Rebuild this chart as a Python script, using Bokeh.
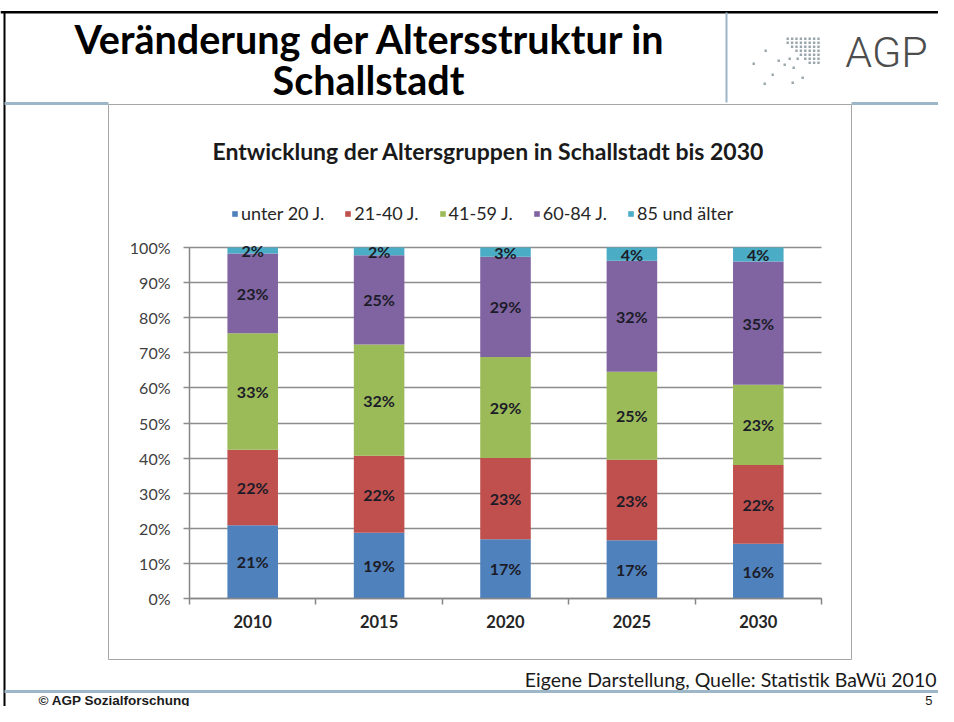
from bokeh.plotting import figure
from bokeh.models import (Range1d, LinearAxis, FixedTicker, PrintfTickFormatter,
                          ColumnDataSource, LabelSet, Label, BoxAnnotation, Legend, LegendItem)
from bokeh.core.properties import value
from bokeh.embed import file_html
from bokeh.resources import INLINE

# ---------------- data ----------------
years = ["2010", "2015", "2020", "2025", "2030"]
groups = ["unter 20 J.", "21-40 J.", "41-59 J.", "60-84 J.", "85 und älter"]
unter_20 = [20.9, 18.7, 16.9, 16.6, 15.6]
j_21_40 = [21.5, 22.0, 23.1, 22.9, 22.4]
j_41_59 = [33.2, 31.7, 28.8, 25.1, 22.9]
j_60_84 = [22.7, 25.4, 28.6, 31.6, 35.1]
ab_85 = [1.7, 2.2, 2.6, 3.8, 4.0]
colors = ["#4F81BD", "#C0504D", "#9BBB59", "#8064A2", "#4BACC6"]
y_ticks = [0, 10, 20, 30, 40, 50, 60, 70, 80, 90, 100]

page_title_1 = "Veränderung der Altersstruktur in"
page_title_2 = "Schallstadt"
chart_title = "Entwicklung der Altersgruppen in Schallstadt bis 2030"
source_note = "Eigene Darstellung, Quelle: Statistik BaWü 2010"
footer_left = "© AGP Sozialforschung"
footer_right = "5"
logo_text = "AGP"

# ---------------- layout ----------------
W, H = 938, 706
FL, FR, FT, FB = 189, 821, 247, 598    # plot area (axes box) in canvas px
n = len(years)
xpos = [i + 0.5 for i in range(n)]     # category centres on a 0..n axis
PXX = (FR - FL) / n
PYY = (FB - FT) / 100.0

# the frame covers the whole canvas; the axes sit at fixed data locations inside it
p = figure(width=W, height=H,
           x_range=Range1d(-FL / PXX, n + (W - FR) / PXX),
           y_range=Range1d(-(H - FB) / PYY, 100 + FT / PYY),
           output_backend="svg", toolbar_location=None,
           x_axis_location=None, y_axis_location=None,
           min_border=0, min_border_left=0, min_border_right=0,
           min_border_top=0, min_border_bottom=0,
           outline_line_color=None,
           background_fill_color="white", border_fill_color="white")
p.grid.visible = False

# pixel coordinate system (from the top-left) for slide decorations
p.extra_x_ranges = {"rx": Range1d(0, W)}
p.extra_y_ranges = {"ry": Range1d(H, 0)}

GRAY = "#868686"
BLUE_LINE = "#9DB6C8"

# y axis; its inward ticks span the plot width and act as the horizontal gridlines
yax = LinearAxis(fixed_location=0, bounds=(0, 100),
                 ticker=FixedTicker(ticks=y_ticks),
                 formatter=PrintfTickFormatter(format="%d%%"))
yax.level = "underlay"
yax.axis_line_color = GRAY
yax.axis_line_width = 1.5
yax.major_tick_line_color = "#8C8C8C"
yax.major_tick_line_width = 1.5
yax.major_tick_out = 6
yax.major_tick_in = FR - FL
yax.minor_tick_line_color = None
yax.major_label_text_font = "Lato"
yax.major_label_text_font_size = "16px"
yax.major_label_text_color = "#404040"
yax.major_label_standoff = 13
p.add_layout(yax, "left")

# x axis: labels at category centres, small ticks at category boundaries
xax = LinearAxis(fixed_location=0, bounds=(0, n),
                 ticker=FixedTicker(ticks=xpos, minor_ticks=list(range(n + 1))),
                 major_label_overrides={x: y for x, y in zip(xpos, years)})
xax.axis_line_color = GRAY
xax.axis_line_width = 1.5
xax.major_tick_line_color = None
xax.major_tick_out = 0
xax.major_tick_in = 0
xax.minor_tick_line_color = GRAY
xax.minor_tick_line_width = 1.5
xax.minor_tick_out = 6
xax.minor_tick_in = 0
xax.major_label_text_font = "Lato"
xax.major_label_text_font_style = "bold"
xax.major_label_text_font_size = "16.5px"
xax.major_label_text_color = "#262626"
xax.major_label_standoff = 10
p.add_layout(xax, "below")

# stacked bars
keys = ["u20", "j21", "j41", "j60", "a85"]
series = [unter_20, j_21_40, j_41_59, j_60_84, ab_85]
src = ColumnDataSource(dict(x=xpos, year=years, **{k: s for k, s in zip(keys, series)}))
renderers = p.vbar_stack(keys, x="x", width=0.4, source=src,
                         fill_color=colors, line_color=None)

# data labels
lx, ly, lt = [], [], []
for j in range(n):
    base = 0.0
    for s in series:
        v = s[j]
        lx.append(xpos[j])
        ly.append(base + v / 2)
        lt.append(f"{int(round(v))}%")
        base += v
p.add_layout(LabelSet(x="x", y="y", text="t",
                      source=ColumnDataSource(dict(x=lx, y=ly, t=lt)),
                      text_align="center", text_baseline="middle",
                      text_font=value("Lato"), text_font_style="bold",
                      text_font_size=value("16px"), text_color="#1C1C28"))

# legend (location = offset of its bottom-left corner from the canvas bottom-left)
legend = Legend(items=[LegendItem(label=g, renderers=[r]) for g, r in zip(groups, renderers)],
                location=(231, 482), orientation="horizontal",
                glyph_width=7, glyph_height=7, label_standoff=3, spacing=20,
                padding=0, margin=0, border_line_color=None, background_fill_alpha=0,
                label_text_font="Lato", label_text_font_size="18px",
                label_text_color="#262626", label_height=18)
p.add_layout(legend)


# ---------------- slide decorations (pixel coordinates) ----------------
def box(left, right, top, bottom, fill=None, line=None, lw=1):
    p.add_layout(BoxAnnotation(left=left, right=right, top=top, bottom=bottom,
                               x_range_name="rx", y_range_name="ry",
                               fill_color=fill if fill else "white",
                               fill_alpha=1 if fill else 0,
                               line_color=line if line else "white", line_width=lw,
                               line_alpha=1 if line else 0))


def label(x, y, text, size, font="Lato", style="normal", align="left", color="black"):
    p.add_layout(Label(x=x, y=y, x_range_name="rx", y_range_name="ry", text=text,
                       text_font=font, text_font_style=style, text_font_size=size,
                       text_align=align, text_baseline="middle", text_color=color))


# frame lines of the slide
box(0, 960, 10.5, 13, fill="black")
box(3, 5, 11, 730, fill="black")
box(725, 727, 12, 102, fill=BLUE_LINE)
box(4, 108, 101.5, 104.5, fill=BLUE_LINE)
box(851, 960, 101.5, 104.5, fill=BLUE_LINE)
box(4, 960, 689.5, 692.5, fill=BLUE_LINE)
# chart box
box(108, 851, 104, 659, line="#A6A6A6", lw=1)

# titles
label(370, 38, page_title_1, "39.5px", style="bold", align="center")
label(368, 79, page_title_2, "39.5px", style="bold", align="center")
label(488, 150, chart_title, "23px", style="bold", align="center", color="#1A1A1A")

# logo
label(886, 51.5, logo_text, "43px", font="Roboto Light, Roboto", align="center", color="#4D4D4D")
dot_c = "#9AA6AC"
for r in range(7):
    for c in range(8):
        if c >= r - 1:
            x0 = 786 + c * 4.4
            y0 = 37 + r * 4.0
            box(x0, x0 + 2.4, y0, y0 + 2.4, fill=dot_c)
for (dx, dy) in [(764, 49), (752, 62), (777, 59), (783, 63), (792, 66), (796, 57),
                 (771, 73), (763, 82), (791, 81), (801, 76), (788, 57)]:
    box(dx, dx + 2.4, dy, dy + 2.4, fill=dot_c)

# source & footer
label(936, 679, source_note, "19.5px", align="right", color="#1A1A1A")
label(38, 699.5, footer_left, "13.5px", font="Liberation Sans", style="bold", color="#1A1A1A")
label(932, 699.5, footer_right, "13px", font="Liberation Sans", align="right", color="#1A1A1A")

open("out.html", "w").write(file_html(p, INLINE))
